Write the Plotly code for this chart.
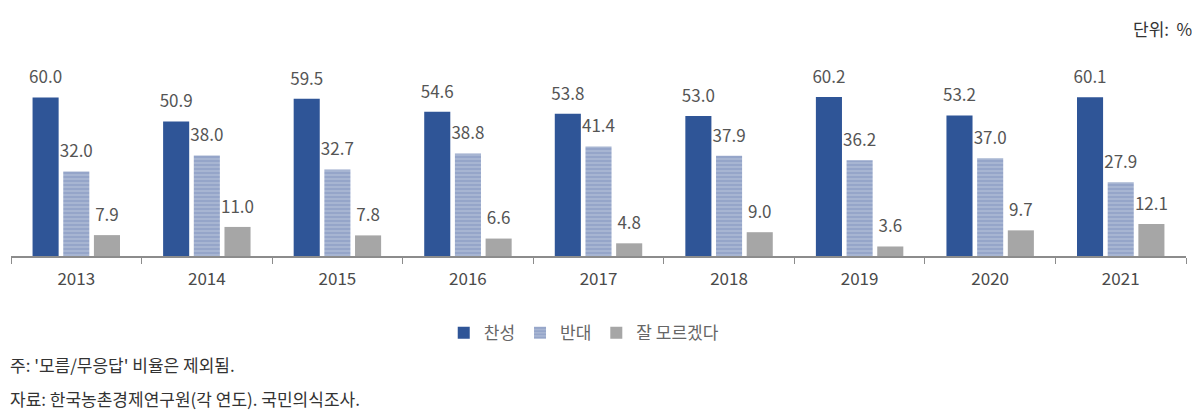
import plotly.graph_objects as go

years = ['2013', '2014', '2015', '2016', '2017', '2018', '2019', '2020', '2021']
agree = [60.0, 50.9, 59.5, 54.6, 53.8, 53.0, 60.2, 53.2, 60.1]
oppose = [32.0, 38.0, 32.7, 38.8, 41.4, 37.9, 36.2, 37.0, 27.9]
unsure = [7.9, 11.0, 7.8, 6.6, 4.8, 9.0, 3.6, 9.7, 12.1]

FONT = 'Noto Sans CJK KR'
# value on first line, an invisible dot on a short second line pushes label up off the bar
label_tpl = "<span style='font-size:17px'>%{y:.1f}</span><br><span style='color:rgba(0,0,0,0)'>.</span>"


def bar(name, values, **marker):
    return go.Bar(
        name=name, x=years, y=values,
        marker=dict(line_width=0, **marker),
        texttemplate=label_tpl, textposition='outside',
        textfont=dict(family=FONT, size=7, color='#555555'),
        constraintext='none', cliponaxis=False,
    )


fig = go.Figure()
fig.add_trace(bar('찬성', agree, color='#2F5597'))
fig.add_trace(bar('반대', oppose, color='white',
                  pattern=dict(shape='-', fgcolor='#3B5A9C', bgcolor='#EEF1F7',
                               size=4, solidity=0.9)))
fig.add_trace(bar('잘 모르겠다', unsure, color='#A6A6A6'))

# page body has an 8px margin, so the figure is 8px smaller than the window
fig.update_layout(
    width=1192, height=408,
    margin=dict(l=3, r=14, t=63, b=160),
    plot_bgcolor='white', paper_bgcolor='white',
    barmode='group', bargap=0.295, bargroupgap=0.15,
    font=dict(family=FONT, size=17, color='#444444'),
    showlegend=True,
    legend=dict(orientation='h', xref='container', yref='container',
                x=0.483, xanchor='center', y=0.203, yanchor='middle',
                font=dict(size=17, color='#666666'), itemwidth=30,
                traceorder='normal'),
    xaxis=dict(type='category', showline=True, linecolor='#8C8C8C', linewidth=1.5,
               ticks='outside', tickson='boundaries', ticklen=6, tickcolor='#8C8C8C',
               ticklabelstandoff=7, automargin=False,
               tickfont=dict(size=17, color='#4A4A4A'), showgrid=False),
    yaxis=dict(range=[0, 70], visible=False, showgrid=False, zeroline=False),
    annotations=[
        dict(text='단위:  %', xref='paper', yref='paper', x=1.007, y=1.232,
             xanchor='right', yanchor='middle', showarrow=False,
             font=dict(size=17, color='#333333')),
        dict(text="주: '모름/무응답' 비율은 제외됨.", xref='paper', yref='paper',
             x=-0.0026, y=-0.584, xanchor='left', yanchor='middle', showarrow=False,
             font=dict(size=17, color='#333333')),
        dict(text='자료: 한국농촌경제연구원(각 연도). 국민의식조사.', xref='paper', yref='paper',
             x=-0.0026, y=-0.768, xanchor='left', yanchor='middle', showarrow=False,
             font=dict(size=17, color='#333333')),
    ],
)

fig.write_html('out.html')
